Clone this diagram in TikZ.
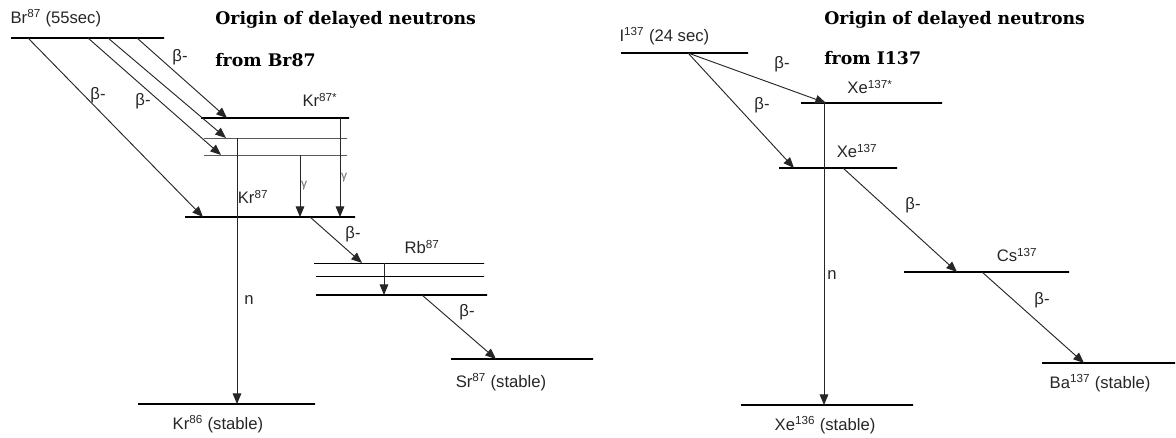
\documentclass[tikz,border=0pt]{standalone}
\usepackage{fontspec}
\setmainfont{Liberation Sans}
\newfontfamily\ttlfont{DejaVu Serif}
\usetikzlibrary{arrows.meta}

\begin{document}
\begin{tikzpicture}[x=0.75pt,y=-0.75pt,>={Triangle[length=8pt,width=6.5pt]},
  lv/.style={draw,line width=1.5pt,inner sep=0pt,minimum height=0pt,outer sep=0pt},
  sub/.style={lv,line width=0.5pt},
  w/.style={minimum width=#1*0.75-1.5},
  tr/.style={->,line width=0.7pt,draw=black!85},
  lb/.style={font=\fontsize{12.5}{14}\selectfont,inner sep=1pt,text=black!85},
  gm/.style={font=\fontsize{9}{10}\selectfont,inner sep=1pt,text=black!60},
  ttl/.style={font=\ttlfont\bfseries\fontsize{13}{15}\selectfont,anchor=west,inner sep=0pt}]
\useasboundingbox (0,0) rectangle (1176,437);

% levels, Br87 chain
\node[lv,w=155] (br) at (87.5,38) {};
\node[lv,w=150] (krx) at (275,118) {};
\node[sub,w=145] (kra) at (275.5,138) {};
\node[sub,w=145] (krb) at (275.5,155) {};
\node[lv,w=172] (kr) at (270,217) {};
\node[lv,w=179] (kr86) at (226.5,404) {};
\node[sub,w=172] (rba) at (399,263) {};
\node[sub,w=170] (rbb) at (400,276) {};
\node[lv,w=173] (rb) at (401.5,295) {};
\node[lv,w=144] (sr) at (522,359) {};

% levels, I137 chain
\node[lv,w=129] (io) at (684.5,53) {};
\node[lv,w=143] (xex) at (871.5,103) {};
\node[lv,w=120] (xe) at (838,168) {};
\node[lv,w=174] (xe136) at (827,405) {};
\node[lv,w=167] (cs) at (986.5,272) {};
\node[lv,w=135] (ba) at (1108.5,363) {};

% transitions
\draw[tr] (28,0 |- br) -- (203,0 |- kr);
\draw[tr] (88,0 |- br) -- (221,0 |- krb);
\draw[tr] (108,0 |- br) -- (226,0 |- kra);
\draw[tr] (137,0 |- br) -- (227,0 |- krx);
\draw[tr] (237,0 |- kra) -- (237,0 |- kr86);
\draw[tr] (300,0 |- krb) -- (300,0 |- kr);
\draw[tr] (340,0 |- krx) -- (340,0 |- kr);
\draw[tr] (310,0 |- kr) -- (362,0 |- rba);
\draw[tr] (384,0 |- rba) -- (384,0 |- rb);
\draw[tr] (422,0 |- rb) -- (496,0 |- sr);

\draw[tr] (688,0 |- io) -- (826,0 |- xex);
\draw[tr] (688,0 |- io) -- (794,0 |- xe);
\draw[tr] (824,0 |- xex) -- (824,0 |- xe136);
\draw[tr] (843,0 |- xe) -- (957,0 |- cs);
\draw[tr] (982,0 |- cs) -- (1084,0 |- ba);

% labels
\node[lb,anchor=west] (tbr) at (9,18) {Br\textsuperscript{87} (55sec)};
\node[lb] (b1) at (180,57) {β-};
\node[lb] (b2) at (98,95) {β-};
\node[lb] (b3) at (143,101) {β-};
\node[lb] (tkrx) at (320,100) {Kr\textsuperscript{87*}};
\node[lb] (tkr) at (253,197) {Kr\textsuperscript{87}};
\node[gm] (g1) at (304,186) {γ};
\node[gm] (g2) at (344,178) {γ};
\node[lb] (n1) at (249,300) {n};
\node[lb] (b4) at (353,234) {β-};
\node[lb] (trb) at (422,247) {Rb\textsuperscript{87}};
\node[lb] (b5) at (467,312) {β-};
\node[lb] (tsr) at (501,382) {Sr\textsuperscript{87} (stable)};
\node[lb] (tkr86) at (218,424) {Kr\textsuperscript{86} (stable)};

\node[lb,anchor=west] (tio) at (618,36) {I\textsuperscript{137} (24 sec)};
\node[lb] (b6) at (782,64) {β-};
\node[lb] (b7) at (762,105) {β-};
\node[lb] (txex) at (870,87) {Xe\textsuperscript{137*}};
\node[lb] (txe) at (857,151) {Xe\textsuperscript{137}};
\node[lb] (n2) at (832,275) {n};
\node[lb] (b8) at (913,205) {β-};
\node[lb] (tcs) at (1017,255) {Cs\textsuperscript{137}};
\node[lb] (b9) at (1042,300) {β-};
\node[lb] (tba) at (1100,383) {Ba\textsuperscript{137} (stable)};
\node[lb] (txe136) at (825,425) {Xe\textsuperscript{136} (stable)};

% titles
\node[ttl] (h1) at (215,20) {Origin of delayed neutrons};
\node[ttl] (h2) at (215,60) {from Br87};
\node[ttl] (h3) at (824,20) {Origin of delayed neutrons};
\node[ttl] (h4) at (824,58) {from I137};
\end{tikzpicture}
\end{document}
